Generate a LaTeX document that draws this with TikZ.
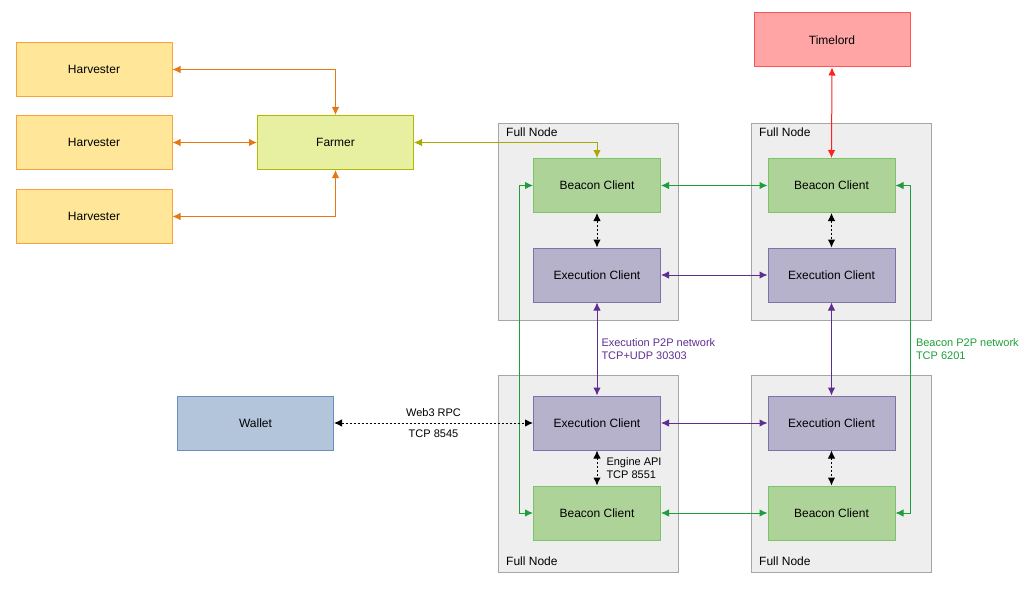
\documentclass[tikz,border=0pt]{standalone}
\usepackage{fontspec}
\setmainfont{Liberation Sans}
\usetikzlibrary{arrows.meta,positioning,calc}
\definecolor{harvfill}{RGB}{255,230,153}
\definecolor{harvdraw}{RGB}{250,160,60}
\definecolor{orangeline}{RGB}{230,120,20}
\definecolor{farmfill}{RGB}{230,240,160}
\definecolor{farmdraw}{RGB}{180,185,0}
\definecolor{oliveline}{RGB}{168,170,0}
\definecolor{beaconfill}{RGB}{174,211,152}
\definecolor{beacondraw}{RGB}{124,196,108}
\definecolor{greenline}{RGB}{30,158,58}
\definecolor{execfill}{RGB}{182,178,204}
\definecolor{execdraw}{RGB}{128,112,172}
\definecolor{purpleline}{RGB}{94,45,145}
\definecolor{timefill}{RGB}{255,165,165}
\definecolor{timedraw}{RGB}{255,82,82}
\definecolor{redline}{RGB}{255,32,32}
\definecolor{walletfill}{RGB}{178,197,219}
\definecolor{walletdraw}{RGB}{108,142,191}
\definecolor{nodefill}{RGB}{238,238,238}
\definecolor{nodedraw}{RGB}{166,166,166}
\tikzset{
    box/.style={
        rectangle,
        draw,
        line width=1pt,
        minimum width=156pt,
        minimum height=54pt,
        inner sep=0pt,
        font=\fontsize{12}{14}\selectfont,
        text centered
    },
    harvester/.style={
        box,
        fill=harvfill,
        draw=harvdraw
    },
    farmer/.style={
        box,
        fill=farmfill,
        draw=farmdraw
    },
    timelord/.style={
        box,
        fill=timefill,
        draw=timedraw
    },
    wallet/.style={
        box,
        fill=walletfill,
        draw=walletdraw
    },
    client/.style={
        box,
        minimum width=127pt
    },
    beacon/.style={
        client,
        fill=beaconfill,
        draw=beacondraw
    },
    execution/.style={
        client,
        fill=execfill,
        draw=execdraw
    },
    fullnode/.style={
        rectangle,
        draw=nodedraw,
        fill=nodefill,
        line width=1pt,
        minimum width=180pt,
        minimum height=197pt,
        inner sep=0pt
    },
    nodelabel/.style={
        font=\fontsize{12}{14}\selectfont,
        inner sep=0pt,
        anchor=west
    },
    link/.style={
        {Latex[length=8pt,width=7.5pt]}-{Latex[length=8pt,width=7.5pt]},
        line width=1pt
    },
    dottedlink/.style={
        link,
        black,
        dash pattern=on 2pt off 2pt
    },
    note/.style={
        font=\fontsize{11}{12.5}\selectfont,
        align=left,
        inner sep=0pt
    }
}

\begin{document}
\begin{tikzpicture}[x=1pt,y=-1pt]
    \useasboundingbox (0,0) rectangle (1029,594);

    % Full node containers
    \node[fullnode] (fn_tl) at (588,221.5) {};
    \node[fullnode] (fn_tr) at (841,221.5) {};
    \node[fullnode] (fn_bl) at (588,474) {};
    \node[fullnode] (fn_br) at (841,474) {};
    \node[nodelabel] (fn_tl_text) at (506,132) {Full Node};
    \node[nodelabel] (fn_tr_text) at (759,132) {Full Node};
    \node[nodelabel] (fn_bl_text) at (506,561) {Full Node};
    \node[nodelabel] (fn_br_text) at (759,561) {Full Node};

    % Farming side
    \node[harvester] (harv_a) at (94,69.5) {Harvester};
    \node[harvester] (harv_b) at (94,142.5) {Harvester};
    \node[harvester] (harv_c) at (94,216.5) {Harvester};
    \node[farmer] (farmer) at (335.5,142.5) {Farmer};
    \node[timelord] (timelord) at (832,40) {Timelord};
    \node[wallet] (wallet) at (255.5,423) {Wallet};

    % Clients
    \node[beacon] (beacon_tl) at (597,185.5) {Beacon Client};
    \node[execution] (exec_tl) at (597,275) {Execution Client};
    \node[beacon] (beacon_tr) at (831.5,185.5) {Beacon Client};
    \node[execution] (exec_tr) at (831.5,275) {Execution Client};
    \node[execution] (exec_bl) at (597,423) {Execution Client};
    \node[beacon] (beacon_bl) at (597,513) {Beacon Client};
    \node[execution] (exec_br) at (831.5,423) {Execution Client};
    \node[beacon] (beacon_br) at (831.5,513) {Beacon Client};

    % Farmer links
    \draw[link,orangeline] (harv_a.east) -| (farmer.north);
    \draw[link,orangeline] (harv_b.east) -- (farmer.west);
    \draw[link,orangeline] (harv_c.east) -| (farmer.south);
    \draw[link,oliveline] (farmer.east) -| (beacon_tl.north);
    \draw[link,redline] (timelord.south) -- (beacon_tr.north);

    % Engine API inside each node
    \draw[dottedlink] (beacon_tl.south) -- (exec_tl.north);
    \draw[dottedlink] (beacon_tr.south) -- (exec_tr.north);
    \draw[dottedlink] (exec_bl.south) -- (beacon_bl.north)
        node[note,midway,right=9pt] {Engine API\\TCP 8551};
    \draw[dottedlink] (exec_br.south) -- (beacon_br.north);

    % Execution P2P network
    \draw[link,purpleline] (exec_tl.east) -- (exec_tr.west);
    \draw[link,purpleline] (exec_bl.east) -- (exec_br.west);
    \draw[link,purpleline] (exec_tl.south) -- (exec_bl.north)
        node[note,midway,right=4pt,text=purpleline] {Execution P2P network\\TCP+UDP 30303};
    \draw[link,purpleline] (exec_tr.south) -- (exec_br.north);

    % Beacon P2P network
    \draw[link,greenline] (beacon_tl.east) -- (beacon_tr.west);
    \draw[link,greenline] (beacon_bl.east) -- (beacon_br.west);
    \draw[link,greenline] (beacon_tl.west) -- ++(-14,0) |- (beacon_bl.west);
    \draw[link,greenline] (beacon_tr.east) -- ++(15,0) |- (beacon_br.east)
        node[note,pos=0.25,right=5pt,text=greenline] {Beacon P2P network\\TCP 6201};

    % Wallet RPC
    \draw[dottedlink] (wallet.east) -- (exec_bl.west)
        node[note,midway,above=6pt] {Web3 RPC}
        node[note,midway,below=6pt] {TCP 8545};
\end{tikzpicture}
\end{document}
